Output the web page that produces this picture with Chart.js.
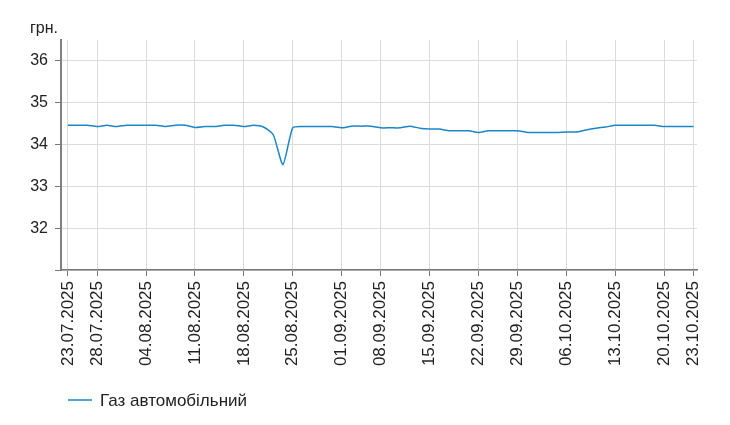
<!DOCTYPE html>
<html>
<head>
<meta charset="utf-8">
<script src="https://cdn.jsdelivr.net/npm/chart.js@4/dist/chart.umd.min.js"></script>
<style>
  html, body { margin: 0; padding: 0; background: #fff; }
  #wrap { width: 730px; height: 425px; }
</style>
</head>
<body>
<div id="wrap"><canvas id="gasChart" width="730" height="425"></canvas></div>
<script>
// trading days (weekdays, a couple of gaps)
const dates = [
  '23.07.2025', '24.07.2025', '25.07.2025', '28.07.2025', '29.07.2025', '30.07.2025', '31.07.2025', '01.08.2025',
  '04.08.2025', '05.08.2025', '06.08.2025', '07.08.2025', '08.08.2025',
  '11.08.2025', '12.08.2025', '13.08.2025', '14.08.2025', '15.08.2025',
  '18.08.2025', '19.08.2025', '20.08.2025', '21.08.2025', '22.08.2025',
  '25.08.2025', '26.08.2025', '27.08.2025', '28.08.2025', '29.08.2025',
  '01.09.2025', '02.09.2025', '04.09.2025', '05.09.2025',
  '08.09.2025', '09.09.2025', '10.09.2025', '11.09.2025', '12.09.2025',
  '15.09.2025', '16.09.2025', '17.09.2025', '18.09.2025', '19.09.2025',
  '22.09.2025', '23.09.2025', '25.09.2025', '26.09.2025',
  '29.09.2025', '30.09.2025', '01.10.2025', '02.10.2025', '03.10.2025',
  '06.10.2025', '07.10.2025', '08.10.2025', '09.10.2025', '10.10.2025',
  '13.10.2025', '14.10.2025', '15.10.2025', '16.10.2025', '17.10.2025',
  '20.10.2025', '21.10.2025', '22.10.2025', '23.10.2025'
];

const gasPrice = [
  34.46, 34.46, 34.46, 34.43, 34.46, 34.43, 34.46, 34.46,
  34.46, 34.46, 34.43, 34.46, 34.46,
  34.41, 34.43, 34.43, 34.46, 34.46,
  34.43, 34.46, 34.42, 34.24, 33.52,
  34.40, 34.43, 34.43, 34.43, 34.43,
  34.40, 34.44, 34.44, 34.44,
  34.40, 34.40, 34.40, 34.44, 34.39,
  34.37, 34.37, 34.33, 34.33, 34.33,
  34.29, 34.33, 34.33, 34.33,
  34.33, 34.29, 34.29, 34.29, 34.29,
  34.30, 34.30, 34.35, 34.39, 34.42,
  34.46, 34.46, 34.46, 34.46, 34.46,
  34.43, 34.43, 34.43, 34.43
];

const tickDates = [
  '23.07.2025', '28.07.2025', '04.08.2025', '11.08.2025', '18.08.2025', '25.08.2025', '01.09.2025',
  '08.09.2025', '15.09.2025', '22.09.2025', '29.09.2025', '06.10.2025', '13.10.2025', '20.10.2025', '23.10.2025'
];
const yTicks = [31, 32, 33, 34, 35, 36];

const seriesName = 'Газ автомобільний';
const unitLabel = 'грн.';
const lineColor = '#1a86ca';

Chart.defaults.font.family = "'Liberation Sans', Arial, sans-serif";
Chart.defaults.color = '#222';

const extras = {
  id: 'extras',
  afterDraw(chart) {
    const ctx = chart.ctx;
    const area = chart.chartArea;
    ctx.save();
    ctx.fillStyle = '#222';
    ctx.font = "16px 'Liberation Sans', Arial, sans-serif";
    ctx.textBaseline = 'alphabetic';
    ctx.fillText(unitLabel, 30, 33);

    // legend
    const ly = area.bottom + 130;
    ctx.strokeStyle = lineColor;
    ctx.lineWidth = 1.5;
    ctx.beginPath();
    ctx.moveTo(area.left + 7, ly);
    ctx.lineTo(area.left + 31, ly);
    ctx.stroke();
    ctx.font = "17px 'Liberation Sans', Arial, sans-serif";
    ctx.textBaseline = 'middle';
    ctx.fillText(seriesName, area.left + 39, ly + 1);
    ctx.restore();
  }
};

new Chart(document.getElementById('gasChart'), {
  type: 'line',
  data: {
    datasets: [{
      label: seriesName,
      data: gasPrice.map((v, i) => ({ x: i, y: v })),
      borderColor: lineColor,
      backgroundColor: lineColor,
      borderWidth: 1.5,
      pointRadius: 0,
      tension: 0.2,
      fill: false
    }]
  },
  options: {
    responsive: false,
    animation: false,
    layout: { padding: { left: 0, top: 40, right: 33, bottom: 55 } },
    plugins: {
      legend: { display: false },
      tooltip: { enabled: false }
    },
    scales: {
      x: {
        type: 'linear',
        min: -0.7,
        max: 64.35,
        afterBuildTicks: (scale) => {
          scale.ticks = tickDates.map(d => ({ value: dates.indexOf(d) }));
        },
        afterFit: (scale) => { scale.height = 100; },
        ticks: {
          autoSkip: false,
          minRotation: 90,
          maxRotation: 90,
          padding: 5,
          color: '#222',
          font: { size: 17 },
          callback: (v) => dates[v]
        },
        grid: { color: '#dcdcdc', lineWidth: 1, tickLength: 6, tickColor: '#777' },
        border: { color: '#777', width: 1.5 }
      },
      y: {
        min: 31,
        max: 36.5,
        afterBuildTicks: (scale) => {
          scale.ticks = yTicks.map(v => ({ value: v }));
        },
        afterFit: (scale) => { scale.width = 61; },
        ticks: {
          padding: 7,
          color: '#222',
          font: { size: 16 },
          callback: (v) => (v === 31 ? '' : v)
        },
        grid: { color: '#dcdcdc', lineWidth: 1, tickLength: 6, tickColor: '#777' },
        border: { color: '#808080', width: 2 }
      }
    }
  },
  plugins: [extras]
});
</script>
</body>
</html>
